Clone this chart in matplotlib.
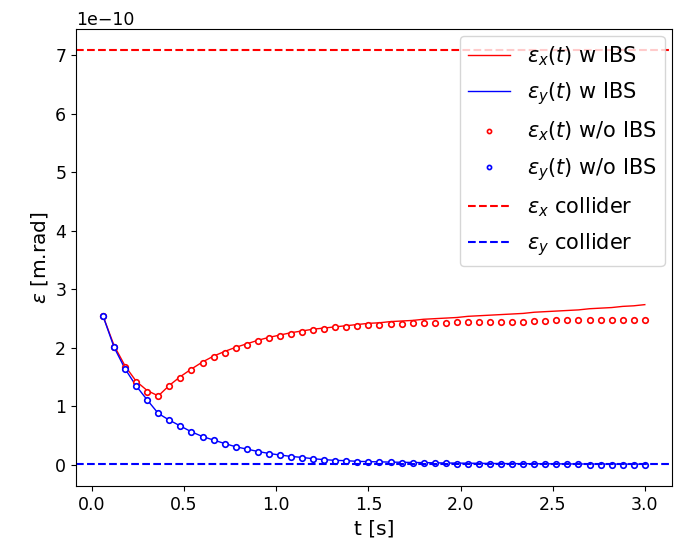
import matplotlib
matplotlib.use("Agg")
import matplotlib.pyplot as plt

plt.rcParams['font.size'] = 12.5

# time samples [s]
t = [0.06, 0.12, 0.18, 0.24, 0.30, 0.36, 0.42, 0.48, 0.54, 0.60,
     0.66, 0.72, 0.78, 0.84, 0.90, 0.96, 1.02, 1.08, 1.14, 1.20,
     1.26, 1.32, 1.38, 1.44, 1.50, 1.56, 1.62, 1.68, 1.74, 1.80,
     1.86, 1.92, 1.98, 2.04, 2.10, 2.16, 2.22, 2.28, 2.34, 2.40,
     2.46, 2.52, 2.58, 2.64, 2.70, 2.76, 2.82, 2.88, 2.94, 3.00]

# emittances in units of 1e-10 m.rad
ex_ibs = [2.546, 2.04, 1.69, 1.43, 1.27, 1.18, 1.36, 1.51, 1.64, 1.76,
          1.86, 1.94, 2.01, 2.07, 2.13, 2.18, 2.22, 2.26, 2.29, 2.32,
          2.34, 2.36, 2.38, 2.40, 2.42, 2.43, 2.45, 2.46, 2.47, 2.49,
          2.50, 2.51, 2.52, 2.54, 2.55, 2.56, 2.57, 2.58, 2.59, 2.61,
          2.62, 2.63, 2.64, 2.65, 2.67, 2.68, 2.69, 2.71, 2.72, 2.74]
ey_ibs = [2.546, 2.01, 1.64, 1.35, 1.11, 0.879, 0.765, 0.665, 0.565, 0.485,
          0.425, 0.366, 0.310, 0.271, 0.230, 0.196, 0.169, 0.145, 0.128, 0.106,
          0.090, 0.078, 0.072, 0.061, 0.056, 0.052, 0.048, 0.045, 0.042, 0.039,
          0.036, 0.033, 0.031, 0.029, 0.027, 0.025, 0.023, 0.022, 0.021, 0.020,
          0.019, 0.018, 0.017, 0.016, 0.015, 0.015, 0.014, 0.014, 0.013, 0.013]
ex_noibs = [2.546, 2.02, 1.67, 1.41, 1.25, 1.17, 1.35, 1.49, 1.62, 1.75,
            1.84, 1.92, 1.995, 2.05, 2.11, 2.17, 2.21, 2.24, 2.27, 2.30,
            2.32, 2.35, 2.35, 2.37, 2.39, 2.39, 2.41, 2.41, 2.43, 2.43,
            2.43, 2.43, 2.44, 2.44, 2.44, 2.44, 2.44, 2.45, 2.45, 2.46,
            2.46, 2.47, 2.47, 2.47, 2.47, 2.47, 2.47, 2.47, 2.47, 2.47]
ey_noibs = [2.546, 2.01, 1.64, 1.35, 1.11, 0.879, 0.76, 0.663, 0.561, 0.48,
            0.42, 0.362, 0.306, 0.267, 0.226, 0.192, 0.165, 0.141, 0.124, 0.102,
            0.085, 0.073, 0.068, 0.056, 0.050, 0.047, 0.043, 0.040, 0.036, 0.033,
            0.030, 0.027, 0.024, 0.021, 0.019, 0.017, 0.015, 0.013, 0.012, 0.011,
            0.010, 0.009, 0.008, 0.007, 0.006, 0.006, 0.005, 0.005, 0.004, 0.004]

ex_collider = 7.1
ey_collider = 0.0071
scale = 1e-10

fig = plt.figure(figsize=(6.78, 5.44), dpi=100)
ax = fig.add_axes([0.112, 0.107, 0.879, 0.840])

ax.plot(t, [v * scale for v in ex_ibs], color='red', lw=1, label=r'$\varepsilon_x(t)$ w IBS')
ax.plot(t, [v * scale for v in ey_ibs], color='blue', lw=1, label=r'$\varepsilon_y(t)$ w IBS')
ax.plot(t, [v * scale for v in ex_noibs], 'o', color='red', ms=4, mew=1.2, mfc='white',
        label=r'$\varepsilon_x(t)$ w/o IBS')
ax.plot(t, [v * scale for v in ey_noibs], 'o', color='blue', ms=4, mew=1.2, mfc='white',
        label=r'$\varepsilon_y(t)$ w/o IBS')
ax.axhline(ex_collider * scale, color='red', ls='--', lw=1.5, label=r'$\varepsilon_x$ collider')
ax.axhline(ey_collider * scale, color='blue', ls='--', lw=1.5, label=r'$\varepsilon_y$ collider')

ax.set_ylim(-0.357e-10, 7.455e-10)
ax.set_xlabel('t [s]', fontsize=14.5)
ax.set_ylabel(r'$\varepsilon$ [m.rad]', fontsize=14.5)
ax.legend(loc='upper right', fontsize=15, borderaxespad=0.35, markerscale=0.75,
          labelspacing=0.6)

fig.savefig('out.png', dpi=100)
